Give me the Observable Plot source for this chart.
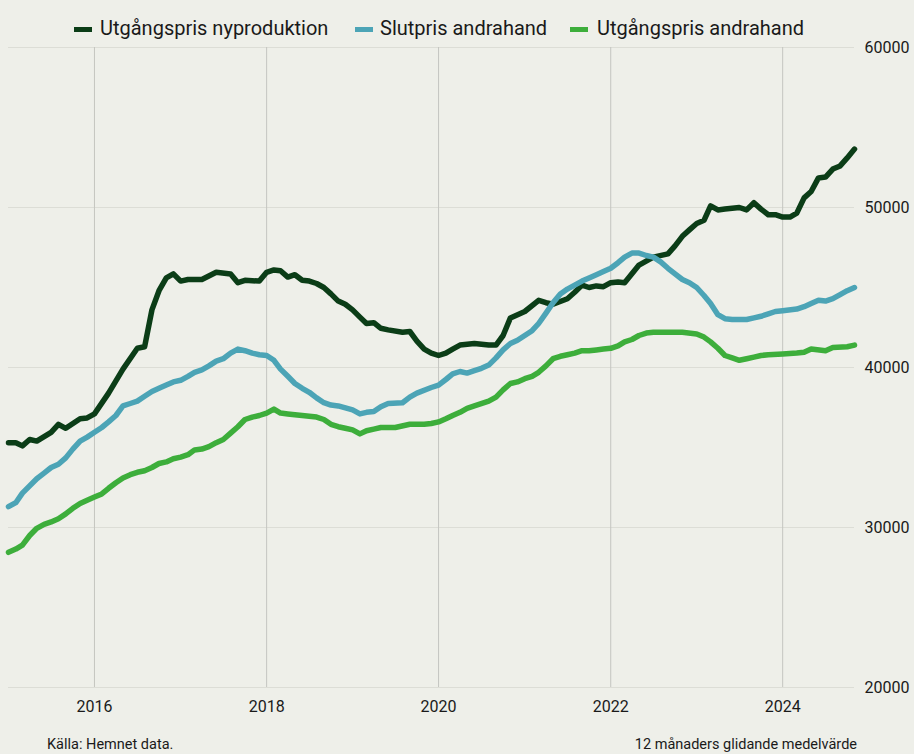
<!DOCTYPE html>
<html>
<head>
<meta charset="utf-8">
<script src="https://cdn.jsdelivr.net/npm/d3@7"></script>
<script src="https://cdn.jsdelivr.net/npm/@observablehq/plot@0.6"></script>
<style>
  html, body { margin: 0; padding: 0; background: #eeefe9; }
  body { width: 914px; height: 754px; position: relative; overflow: hidden; font-family: Roboto, "Noto Sans", sans-serif; color: #1a1a1a; }
  #chart { position: absolute; left: 0; top: 20px; }
  #legend { position: absolute; left: 0; top: 15px; height: 26px; width: 914px; z-index: 2; }
  .item { position: absolute; top: 0; height: 26px; line-height: 26px; font-size: 20px; white-space: nowrap; }
  .sw { position: absolute; width: 18px; height: 5px; top: 12px; }
  .foot { position: absolute; top: 735px; font-size: 14.5px; line-height: 20px; white-space: nowrap; color: #1a1a1a; }
</style>
</head>
<body>
<div id="chart"></div>
<div id="legend"></div>
<div class="foot" style="left:47px">Källa: Hemnet data.</div>
<div class="foot" style="right:57px">12 månaders glidande medelvärde</div>
<script>
// Series names and colours
const seriesNames = ["Utgångspris nyproduktion", "Slutpris andrahand", "Utgångspris andrahand"];
const seriesColors = ["#0b3d17", "#4ca4b6", "#3dae3b"];

// Utgångspris nyproduktion
const nyMonths = ["2015-01","2015-02","2015-03","2015-04","2015-05","2015-07","2015-08","2015-09","2015-11","2015-12",
"2016-01","2016-03","2016-05","2016-07","2016-08","2016-09","2016-10","2016-11","2016-12",
"2017-01","2017-02","2017-04","2017-06","2017-08","2017-09","2017-10","2017-12",
"2018-01","2018-02","2018-03","2018-04","2018-05","2018-06","2018-07","2018-08","2018-09","2018-10","2018-11","2018-12",
"2019-01","2019-02","2019-03","2019-04","2019-05","2019-06","2019-08","2019-09","2019-10","2019-11","2019-12",
"2020-01","2020-02","2020-03","2020-04","2020-06","2020-08","2020-09","2020-10","2020-11",
"2021-01","2021-03","2021-04","2021-05","2021-07","2021-08","2021-09","2021-10","2021-11","2021-12",
"2022-01","2022-02","2022-03","2022-05","2022-07","2022-09","2022-10","2022-11","2022-12",
"2023-01","2023-02","2023-03","2023-04","2023-05","2023-07","2023-08","2023-09","2023-10","2023-11","2023-12",
"2024-01","2024-02","2024-03","2024-04","2024-05","2024-06","2024-07","2024-08","2024-09","2024-10","2024-11"];
const nyValues = [35300,35300,35100,35500,35400,35950,36450,36200,36800,36850,
37100,38400,39900,41200,41300,43600,44800,45600,45850,
45400,45500,45500,45950,45850,45300,45450,45400,
45950,46100,46050,45650,45800,45450,45400,45250,45000,44600,44150,43950,
43600,43150,42750,42800,42450,42350,42200,42250,41650,41150,40900,
40750,40900,41150,41400,41500,41400,41400,42000,43100,
43500,44200,44050,43950,44300,44700,45150,45000,45100,45050,
45300,45350,45300,46400,46900,47100,47600,48200,48600,
49000,49200,50100,49850,49900,50000,49850,50300,49900,49550,49550,
49400,49400,49650,50600,51000,51850,51900,52400,52600,53100,53650];

// Slutpris andrahand
const slutMonths = ["2015-01","2015-02","2015-03","2015-05","2015-06","2015-07","2015-08","2015-09","2015-10","2015-11","2015-12",
"2016-01","2016-02","2016-03","2016-04","2016-05","2016-06","2016-07","2016-08","2016-09","2016-10","2016-11","2016-12",
"2017-01","2017-02","2017-03","2017-04","2017-05","2017-06","2017-07","2017-08","2017-09","2017-10","2017-11","2017-12",
"2018-01","2018-02","2018-03","2018-04","2018-05","2018-06","2018-07","2018-08","2018-09","2018-10","2018-11",
"2019-01","2019-02","2019-03","2019-04","2019-05","2019-06","2019-08","2019-09","2019-10","2019-12",
"2020-01","2020-02","2020-03","2020-04","2020-05","2020-06","2020-07","2020-08","2020-09","2020-10","2020-11","2020-12",
"2021-01","2021-02","2021-03","2021-04","2021-05","2021-06","2021-07","2021-08","2021-09","2021-10","2021-11","2021-12",
"2022-01","2022-02","2022-03","2022-04","2022-05","2022-06","2022-07","2022-08","2022-09","2022-10","2022-11","2022-12",
"2023-01","2023-02","2023-03","2023-04","2023-05","2023-06","2023-08","2023-09","2023-10","2023-11","2023-12",
"2024-01","2024-03","2024-04","2024-05","2024-06","2024-07","2024-08","2024-09","2024-10","2024-11"];
const slutValues = [31300,31550,32150,33050,33400,33750,33950,34350,34900,35400,35650,
35950,36250,36600,37000,37600,37750,37900,38200,38500,38700,38900,39100,
39200,39450,39700,39850,40100,40400,40550,40900,41150,41050,40900,40800,
40750,40450,39900,39450,39000,38700,38450,38100,37800,37650,37600,
37350,37100,37200,37250,37550,37750,37800,38150,38400,38750,
38900,39250,39600,39750,39650,39800,39950,40150,40600,41100,41500,41700,
42000,42300,42750,43400,44050,44600,44900,45150,45400,45600,45800,46000,
46200,46550,46900,47150,47150,47000,46900,46600,46200,45850,45500,45300,
45000,44500,44000,43300,43050,43000,43000,43100,43200,43350,43500,
43550,43650,43800,44000,44200,44150,44300,44550,44800,45000];

// Utgångspris andrahand
const andraMonths = ["2015-01","2015-02","2015-03","2015-04","2015-05","2015-06","2015-07","2015-08","2015-09","2015-10","2015-11","2015-12",
"2016-01","2016-02","2016-03","2016-04","2016-05","2016-06","2016-07","2016-08","2016-09","2016-10","2016-11","2016-12",
"2017-01","2017-02","2017-03","2017-04","2017-05","2017-06","2017-07","2017-08","2017-09","2017-10","2017-11","2017-12",
"2018-01","2018-02","2018-03","2018-04","2018-05","2018-06","2018-07","2018-08","2018-09","2018-10","2018-11","2018-12",
"2019-01","2019-02","2019-03","2019-04","2019-05","2019-07","2019-09","2019-11","2019-12",
"2020-01","2020-02","2020-03","2020-04","2020-05","2020-06","2020-08","2020-09","2020-10","2020-11","2020-12",
"2021-01","2021-02","2021-03","2021-04","2021-05","2021-06","2021-07","2021-08","2021-09","2021-10","2021-11","2021-12",
"2022-01","2022-02","2022-03","2022-04","2022-05","2022-06","2022-07","2022-09","2022-11",
"2023-01","2023-02","2023-03","2023-04","2023-05","2023-06","2023-07","2023-08","2023-09","2023-10","2023-11",
"2024-01","2024-03","2024-04","2024-05","2024-07","2024-08","2024-10","2024-11"];
const andraValues = [28450,28650,28900,29500,29950,30200,30350,30550,30850,31200,31500,31700,
31900,32100,32450,32800,33100,33300,33450,33550,33750,34000,34100,34300,
34400,34550,34850,34900,35050,35300,35500,35900,36300,36750,36900,37000,
37150,37400,37150,37100,37050,37000,36950,36900,36750,36450,36300,36200,
36100,35850,36050,36150,36250,36250,36450,36450,36500,
36600,36800,37000,37200,37450,37600,37900,38150,38600,39000,39100,
39300,39450,39700,40100,40550,40700,40800,40900,41050,41050,41100,41150,
41200,41350,41600,41750,42000,42150,42200,42200,42200,
42100,41900,41600,41200,40750,40600,40450,40550,40650,40750,40800,
40850,40900,40950,41150,41050,41250,41300,41400];

// Axis ticks
const yearTicks = ["2016","2018","2020","2022","2024"];
const valueTicks = [20000, 30000, 40000, 50000, 60000];

const parseMonth = d3.utcParse("%Y-%m");
const toRows = (months, values, name) => months.map((m, i) => ({date: parseMonth(m), value: values[i], series: name}));
const rows = [
  ...toRows(andraMonths, andraValues, seriesNames[2]),
  ...toRows(nyMonths, nyValues, seriesNames[0]),
  ...toRows(slutMonths, slutValues, seriesNames[1])
];
const xTicks = yearTicks.map(y => d3.utcParse("%Y")(y));

const chart = Plot.plot({
  width: 914,
  height: 705,
  marginLeft: 8,
  marginRight: 60,
  marginTop: 27,
  marginBottom: 38,
  style: {background: "transparent", fontFamily: "Roboto, 'Noto Sans', sans-serif", fontSize: "16px", color: "#1a1a1a"},
  x: {type: "utc", domain: [parseMonth("2015-01"), parseMonth("2024-11")]},
  y: {domain: [20000, 60000]},
  color: {domain: seriesNames, range: seriesColors},
  marks: [
    Plot.gridY({ticks: valueTicks, stroke: "#dcddd6", strokeOpacity: 1, strokeWidth: 1}),
    Plot.gridX({ticks: xTicks, stroke: "#c4c5c0", strokeOpacity: 1, strokeWidth: 1}),
    Plot.line(rows, {x: "date", y: "value", z: "series", stroke: "series", strokeWidth: 5.5, strokeLinejoin: "round", strokeLinecap: "round"}),
    Plot.axisX({ticks: xTicks, tickSize: 0, tickPadding: 13, tickFormat: d3.utcFormat("%Y"), label: null, fontSize: 16}),
    Plot.axisY({anchor: "right", ticks: valueTicks, tickSize: 0, tickPadding: 10, tickFormat: d => String(d), label: null, fontSize: 16})
  ]
});
document.getElementById("chart").appendChild(chart);

// Legend
const legendPos = [[74, 100], [355, 380], [570, 597]];
const legend = document.getElementById("legend");
seriesNames.forEach((name, i) => {
  const sw = document.createElement("div");
  sw.className = "sw";
  sw.style.left = legendPos[i][0] + "px";
  sw.style.background = seriesColors[i];
  legend.appendChild(sw);
  const t = document.createElement("div");
  t.className = "item";
  t.style.left = legendPos[i][1] + "px";
  t.textContent = name;
  legend.appendChild(t);
});
</script>
</body>
</html>
